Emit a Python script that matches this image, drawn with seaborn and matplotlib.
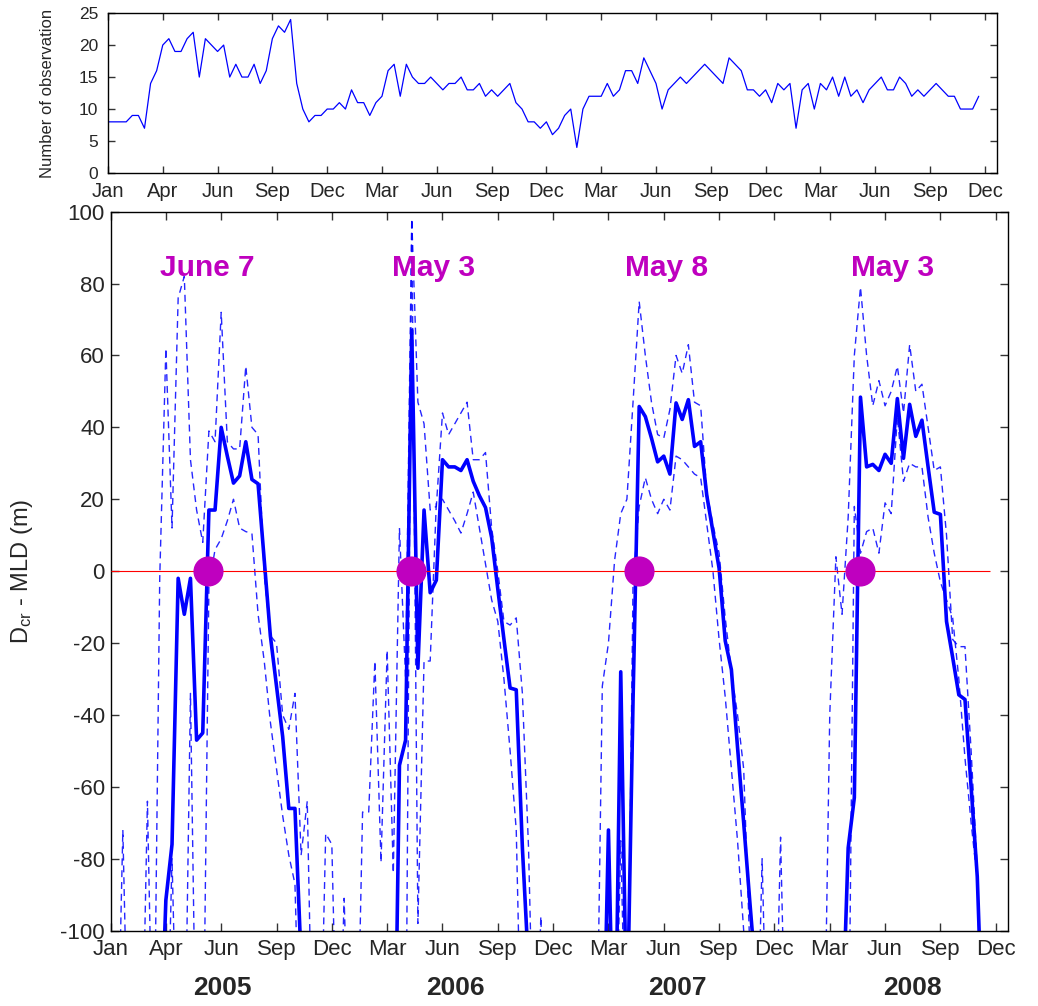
import numpy as np
import pandas as pd
import matplotlib
matplotlib.use("Agg")
import matplotlib.pyplot as plt
import seaborn as sns

# ---------------- data (dekad index: 36 per year, Jan 2005 .. Dec 2008) ----------------
n_obs = [8, 8, 8, 8, 9, 9, 7, 14, 16, 20, 21, 19, 19, 21, 22, 15, 21, 20, 19, 20,
         15, 17, 15, 15, 17, 14, 16, 21, 23, 22, 24, 14, 10, 8, 9, 9,
         10, 10, 11, 10, 13, 11, 11, 9, 11, 12, 16, 17, 12, 17, 15, 14, 14, 15,
         14, 13, 14, 14, 15, 13, 13, 14, 12, 13, 12, 13, 14, 11, 10, 8, 8, 7,
         8, 6, 7, 9, 10, 4, 10, 12, 12, 12, 14, 12, 13, 16, 16, 14, 18, 16,
         14, 10, 13, 14, 15, 14, 15, 16, 17, 16, 15, 14, 18, 17, 16, 13, 13, 12,
         13, 11, 14, 13, 14, 7, 13, 14, 10, 14, 13, 15, 12, 15, 12, 13, 11, 13,
         14, 15, 13, 13, 15, 14, 12, 13, 12, 13, 14, 13, 12, 12, 10, 10, 10, 12]

# D_cr - MLD mean (solid); values below -100 fall outside the axis
mean_2005 = [-150, -150, -150, -150, -150, -150, -150, -150, -140, -91.5, -76, -2,
             -12, -2, -47, -45, 17, 17, 40, 32, 24.5, 26.5, 36, 25.5,
             24.3, 3, -18, -32, -46, -66, -66, -108, -150, -150, -150, -150]
mean_2006 = [-150, -150, -150, -150, -150, -150, -150, -150, -150, -150, -170, -54,
             -47, 67, -27, 17, -6, -2.5, 31, 29, 29, 28, 31, 25,
             21, 17.7, 9.3, -5, -19, -32.5, -33, -77, -110, -150, -150, -150]
mean_2007 = [-150, -150, -150, -150, -150, -150, -150, -150, -150, -72, -150, -28,
             -130, -36, 45.8, 43, 37, 30.4, 32, 27, 46.8, 42.2, 47.7, 34.7,
             36, 21, 11, 0.8, -19.4, -27.4, -49, -70, -92, -113, -150, -150]
mean_2008 = [-150, -150, -150, -150, -150, -150, -150, -150, -150, -150, -150, -130,
             -77, -63, 48.4, 29, 29.7, 28, 32.5, 30, 48, 31.4, 46.4, 37.5,
             42, 29, 16.4, 15.8, -14, -24, -34.4, -35.7, -60, -85, -135, -150]

upper_2005 = [-150, -150, -72, -150, -150, -150, -64, -150, -2, 62, 12, 76,
              82, 31, 17, 8, 39, 36, 72, 36, 34, 34, 57, 40,
              38, -1, -18, -20, -40, -44, -34, -79, -64, -150, -150, -73]
upper_2006 = [-76, -150, -91, -150, -150, -67, -67, -25, -81, -22, -84, 12,
              -30, 98, 47, 41, 17, 18, 44, 38, 41, 44, 47, 31,
              31, 33, 12, 0, -14, -15, -13, -34, -77, -150, -96, -150]
upper_2007 = [-150, -150, -150, -150, -150, -150, -150, -150, -32, -20, 3, 16,
              20, 47, 75, 60, 47, 38, 37, 45, 60, 55, 63, 47,
              46, 22, 13, 5, -13, -28, -40, -55, -105, -150, -80, -150]
upper_2008 = [-150, -74, -150, -150, -150, -150, -150, -150, -150, -40, 4, -12,
              15, 60, 79, 60, 46, 53, 46, 50, 57, 44, 63, 50,
              52, 40, 28, 29, 10, -19, -21, -21, -50, -83, -150, -150]

lower_2005 = [-150, -150, -150, -150, -150, -150, -150, -150, -150, -150, -80, -150,
              -150, -34, -150, -150, -4, 6, 9, 14, 20, 12, 11, 10.5,
              -12, -25, -42, -55, -68, -79, -87, -150, -150, -150, -150, -150]
lower_2006 = [-150, -150, -150, -150, -150, -150, -150, -150, -150, -150, -150, -150,
              -150, 98, -98, -25, -25, 19, 20, 17, 14, 10.6, 16, 22,
              12, 2, -8, -14, -30, -50, -72, -150, -150, -150, -150, -150]
lower_2007 = [-150, -150, -150, -150, -150, -150, -150, -150, -150, -150, -150, -75,
              -150, -3, 18, 26, 20, 16, 20, 17, 32, 31, 29, 27,
              26, 13, 0, -19, -35, -55, -75, -100, -150, -150, -150, -150]
lower_2008 = [-150, -150, -150, -150, -150, -150, -150, -150, -150, -150, -150, -150,
              -150, 18, 5, 11, 12, 5, 19, 16, 43, 25, 30, 29,
              29, 15, 5, -3, -8, -13, -30, -52, -70, -86, -150, -150]

tick_labels = ["Jan", "Apr", "Jun", "Sep", "Dec", "Mar", "Jun", "Sep", "Dec",
               "Mar", "Jun", "Sep", "Dec", "Mar", "Jun", "Sep", "Dec"]
years = ["2005", "2006", "2007", "2008"]
year_label_x = [18.2, 56.1, 92.2, 130.4]
onset_dekad = [15.9, 48.9, 85.9, 121.9]
onset_labels = ["June 7", "May 3", "May 8", "May 3"]
onset_label_x = [15.7, 52.6, 90.5, 127.2]

# ---------------- build frames ----------------
dekad = np.arange(len(n_obs))
obs_df = pd.DataFrame({"dekad": dekad, "n": n_obs})
bot_df = pd.DataFrame({
    "dekad": dekad,
    "mean": mean_2005 + mean_2006 + mean_2007 + mean_2008,
    "upper": upper_2005 + upper_2006 + upper_2007 + upper_2008,
    "lower": lower_2005 + lower_2006 + lower_2007 + lower_2008,
})
onset_df = pd.DataFrame({"dekad": onset_dekad, "y": [0] * len(onset_dekad)})

# ---------------- style ----------------
sns.set_style("ticks")
plt.rcParams["font.family"] = ["Liberation Sans", "DejaVu Sans"]
plt.rcParams["mathtext.fontset"] = "custom"
plt.rcParams["mathtext.rm"] = "Liberation Sans"
plt.rcParams["mathtext.it"] = "Liberation Sans"
plt.rcParams["xtick.direction"] = "in"
plt.rcParams["ytick.direction"] = "in"
plt.rcParams["axes.linewidth"] = 1.0
plt.rcParams["axes.unicode_minus"] = False

BLUE = "#0000FF"
MAG = "#BF00BF"

fig = plt.figure(figsize=(10.38, 10.06), dpi=100)
ax1 = fig.add_axes([0.1040, 0.8280, 0.8565, 0.1590])
ax2 = fig.add_axes([0.1065, 0.0749, 0.8646, 0.7147])

xticks = np.arange(0, 9 * len(tick_labels), 9)

# ---------------- top panel ----------------
sns.lineplot(data=obs_df, x="dekad", y="n", ax=ax1, color=BLUE, linewidth=0.9)
ax1.set_xlim(0, 146)
ax1.set_ylim(0, 25)
ax1.set_yticks(np.arange(0, 26, 5))
ax1.set_xticks(xticks)
ax1.set_xticklabels(tick_labels)
ax1.set_xlabel("")
ax1.set_ylabel("Number of observation", fontsize=12)
ax1.yaxis.set_label_coords(-0.060, 0.5)
ax1.tick_params(axis="both", which="both", top=True, right=True, length=5,
                width=1.0, color="#333333")
ax1.tick_params(axis="x", labelsize=14.5, pad=6.5)
ax1.tick_params(axis="y", labelsize=12.5, pad=7)
for s in ax1.spines.values():
    s.set_visible(True)
    s.set_color("black")

# ---------------- bottom panel ----------------
for col in ["upper", "lower"]:
    sns.lineplot(data=bot_df, x="dekad", y=col, ax=ax2, color=BLUE,
                 linewidth=1.0, linestyle=(0, (5, 3.5)), alpha=0.85)
sns.lineplot(data=bot_df, x="dekad", y="mean", ax=ax2, color=BLUE, linewidth=2.6)
ax2.hlines(0, dekad[0], dekad[-1], color="red", linewidth=0.8, zorder=3)
sns.scatterplot(data=onset_df, x="dekad", y="y", ax=ax2, color=MAG, s=470,
                linewidth=0, zorder=5, clip_on=True)

for lx, lab in zip(onset_label_x, onset_labels):
    ax2.text(lx, 82, lab, color=MAG, fontsize=21.5, fontweight="bold",
             ha="center", va="baseline")

trans = matplotlib.transforms.blended_transform_factory(ax2.transData, ax2.transAxes)
for yx, yr in zip(year_label_x, years):
    ax2.text(yx, -0.0894, yr, transform=trans, fontsize=19, fontweight="bold",
             ha="center", va="baseline")

ax2.set_xlim(0, 146)
ax2.set_ylim(-100, 100)
ax2.set_yticks(np.arange(-100, 101, 20))
ax2.set_xticks(xticks)
ax2.set_xticklabels(tick_labels)
ax2.set_xlabel("")
ax2.set_ylabel(r"D$_{\mathrm{cr}}$ - MLD (m)", fontsize=17)
ax2.yaxis.set_label_coords(-0.084, 0.5)
ax2.tick_params(axis="both", which="both", top=True, right=True, length=6,
                width=1.0, color="#333333", labelsize=16)
ax2.tick_params(axis="x", pad=6)
ax2.tick_params(axis="y", pad=4)
for s in ax2.spines.values():
    s.set_visible(True)
    s.set_color("black")

fig.savefig("out.png", dpi=100)
